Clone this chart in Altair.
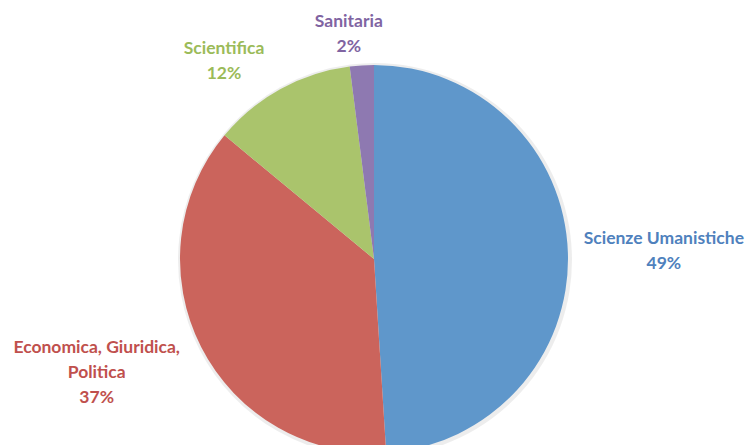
import altair as alt
import pandas as pd

categories = ["Scienze Umanistiche", "Economica, Giuridica, Politica", "Scientifica", "Sanitaria"]
label_lines = [["Scienze Umanistiche"], ["Economica, Giuridica,", "Politica"], ["Scientifica"], ["Sanitaria"]]
values = [49, 37, 12, 2]
slice_colors = ["#5F97CB", "#CB645C", "#AAC46C", "#8E79B1"]
text_colors = ["#4F81BD", "#C0504D", "#9BBB59", "#8064A2"]

df = pd.DataFrame({
    "categoria": categories,
    "valore": values,
    "ordine": list(range(len(categories))),
    "etichetta": ["\n".join(l + [f"{v}%"]) for l, v in zip(label_lines, values)],
})

CX, CY, R = 366, 251, 194

theta = alt.Theta("valore:Q", stack=True)
order = alt.Order("ordine:Q")

pie = alt.Chart(df).mark_arc(radius=R).encode(
    theta=theta,
    order=order,
    color=alt.Color("categoria:N", scale=alt.Scale(domain=categories, range=slice_colors), legend=None),
    x=alt.value(CX), y=alt.value(CY),
)

shadow = alt.Chart(df).mark_arc(radius=R + 3, color="#000000", opacity=0.07).encode(
    theta=theta, order=order, x=alt.value(CX + 1), y=alt.value(CY + 1),
)

# label placement per slice: (radius, dx, dy)
placements = {
    "Scienze Umanistiche": (294, -4, -11),
    "Economica, Giuridica, Politica": (300, -10, -47),
    "Scientifica": (249, -30, 8),
    "Sanitaria": (226, -11, -11),
}

layers = [shadow, pie]
for cat, tc in zip(categories, text_colors):
    r, dx, dy = placements[cat]
    txt = alt.Chart(df).mark_text(
        radius=r, dx=dx, dy=dy, font="Lato", fontWeight="bold", fontSize=17.5,
        lineBreak="\n", lineHeight=25, align="center", baseline="middle", color=tc,
    ).encode(
        theta=theta, order=order, text="etichetta:N",
        x=alt.value(CX), y=alt.value(CY),
        opacity=alt.condition(alt.datum.categoria == cat, alt.value(1), alt.value(0)),
    )
    layers.append(txt)

chart = alt.layer(*layers).properties(
    width=738, height=437, padding=0, autosize=alt.AutoSizeParams(type="none")
).configure_view(stroke=None)

chart.save("out.html", embed_options={"renderer": "svg", "actions": False})
